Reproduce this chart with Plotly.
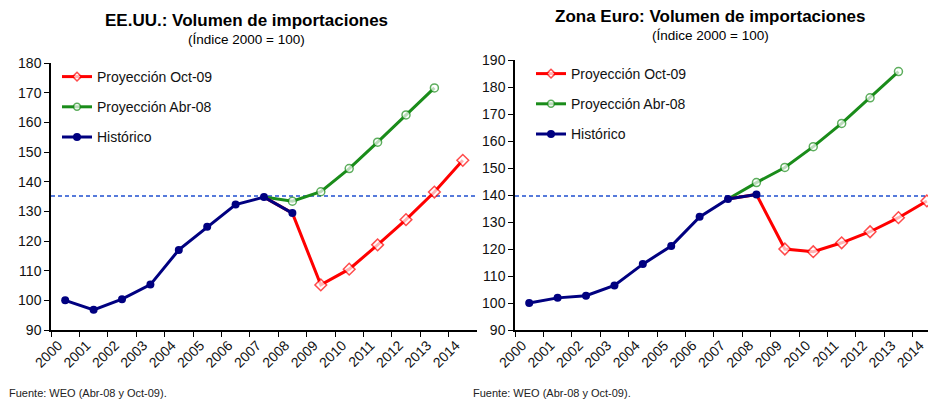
import plotly.graph_objects as go

years = [str(y) for y in range(2000, 2015)]

# EE.UU.
us_hist_years = years[0:9]
us_hist = [100.0, 96.8, 100.4, 105.3, 117.0, 124.8, 132.3, 134.8, 129.4]
us_oct09_years = years[7:15]
us_oct09 = [134.8, 129.4, 105.2, 110.5, 118.7, 127.2, 136.5, 147.2]
us_abr08_years = years[7:14]
us_abr08 = [134.8, 133.4, 136.6, 144.4, 153.3, 162.5, 171.6]
us_ref = 135.2

# Zona Euro
ez_hist_years = years[0:9]
ez_hist = [100.0, 101.9, 102.7, 106.5, 114.4, 121.1, 131.9, 138.5, 140.2]
ez_oct09_years = years[7:15]
ez_oct09 = [138.5, 140.2, 120.0, 119.0, 122.3, 126.4, 131.6, 137.8]
ez_abr08_years = years[7:14]
ez_abr08 = [138.5, 144.6, 150.2, 157.9, 166.5, 176.0, 185.7]
ez_ref = 139.6

titles = ["EE.UU.: Volumen de importaciones", "Zona Euro: Volumen de importaciones"]
subtitle = "(Índice 2000 = 100)"
source = "Fuente: WEO (Abr-08 y Oct-09)."

RED = "#FF0000"
GREEN = "#1A8C1A"
NAVY = "#000080"
DASH = "#1F4FCF"
FONT = "Liberation Sans, Arial, sans-serif"

W, H = 928, 400

fig = go.Figure()

def add_panel(xa, ya, legend, hist_x, hist, oct_x, octv, abr_x, abr):
    hist_pts = set(zip(hist_x, hist))
    # hide projection markers where they coincide with historical points
    abr_sizes = [0 if (x, v) in hist_pts else 8 for x, v in zip(abr_x, abr)]
    oct_sizes = [0 if (x, v) in hist_pts else 9 for x, v in zip(oct_x, octv)]
    fig.add_trace(go.Scatter(x=abr_x, y=abr, name="Proyección Abr-08", mode="lines+markers",
                             line=dict(color=GREEN, width=3),
                             marker=dict(symbol="circle", size=abr_sizes, color="white",
                                         line=dict(color=GREEN, width=1.5)),
                             xaxis=xa, yaxis=ya, legend=legend, legendrank=2,
                             legendgroup=legend + "b", cliponaxis=False))
    fig.add_trace(go.Scatter(x=oct_x, y=octv, name="Proyección Oct-09", mode="lines+markers",
                             line=dict(color=RED, width=3),
                             marker=dict(symbol="diamond", size=oct_sizes, color="white",
                                         line=dict(color=RED, width=1.5)),
                             xaxis=xa, yaxis=ya, legend=legend, legendrank=1,
                             legendgroup=legend + "a", cliponaxis=False))
    fig.add_trace(go.Scatter(x=hist_x, y=hist, name="Histórico", mode="lines+markers",
                             line=dict(color=NAVY, width=3),
                             marker=dict(symbol="circle", size=8, color=NAVY),
                             xaxis=xa, yaxis=ya, legend=legend, legendrank=3,
                             legendgroup=legend + "c", cliponaxis=False))

add_panel("x", "y", "legend", us_hist_years, us_hist, us_oct09_years, us_oct09, us_abr08_years, us_abr08)
add_panel("x2", "y2", "legend2", ez_hist_years, ez_hist, ez_oct09_years, ez_oct09, ez_abr08_years, ez_abr08)

# reference dashed lines
for xr, yr, val in [("x domain", "y", us_ref), ("x2 domain", "y2", ez_ref)]:
    fig.add_shape(type="line", xref=xr, yref=yr, x0=0, x1=1, y0=val, y1=val,
                  line=dict(color=DASH, width=1.5, dash="4px,3px"), layer="below")

xcommon = dict(type="category", categoryorder="array", categoryarray=years,
               tickangle=-45, showline=True, linecolor="black", linewidth=1.5,
               ticks="outside", ticklen=5, tickcolor="black", tickson="boundaries",
               showgrid=False, zeroline=False, automargin=False, ticklabelshift=-7,
               tickfont=dict(size=14, color="#111"))
ycommon = dict(showline=True, linecolor="black", linewidth=1.5, ticks="outside", ticklen=5,
               tickcolor="black", showgrid=False, zeroline=False, dtick=10, automargin=False,
               tickfont=dict(size=14, color="#111"))

fig.update_layout(
    xaxis=dict(xcommon, domain=[51 / W, 477 / W], range=[-0.5, 14.5], anchor="y"),
    yaxis=dict(ycommon, domain=[(H - 330) / H, (H - 63) / H], range=[90, 180], anchor="x"),
    xaxis2=dict(xcommon, domain=[515 / W, 1.0], range=[-0.5, 14.04], anchor="y2"),
    yaxis2=dict(ycommon, domain=[(H - 330) / H, (H - 60) / H], range=[90, 190], anchor="x2"),
)

legcommon = dict(bgcolor="rgba(0,0,0,0)", font=dict(size=14, color="#111", family=FONT),
                 traceorder="grouped", tracegroupgap=9, itemwidth=30,
                 xanchor="left", yanchor="top", xref="paper", yref="paper")
fig.update_layout(
    legend=dict(legcommon, x=57 / W, y=(H - 61) / H),
    legend2=dict(legcommon, x=531 / W, y=(H - 58) / H),
)

annots = [
    dict(text="<b>" + titles[0] + "</b>", x=246 / W, y=(H - 20) / H, font=dict(size=17)),
    dict(text=subtitle, x=246 / W, y=(H - 39) / H, font=dict(size=13.5)),
    dict(text="<b>" + titles[1] + "</b>", x=710 / W, y=(H - 17) / H, font=dict(size=17)),
    dict(text=subtitle, x=710 / W, y=(H - 36) / H, font=dict(size=13.5)),
]
for a in annots:
    fig.add_annotation(xref="paper", yref="paper", showarrow=False, xanchor="center",
                       yanchor="middle", **a)
for xpos in [7, 471]:
    fig.add_annotation(text=source, xref="paper", yref="paper", x=xpos / W, y=(H - 393) / H,
                       xanchor="left", yanchor="middle", showarrow=False,
                       font=dict(size=11, color="#222"))

fig.update_layout(
    width=W, height=H, margin=dict(l=0, r=0, t=0, b=0, pad=0),
    paper_bgcolor="white", plot_bgcolor="white",
    font=dict(family=FONT, color="black"),
    showlegend=True,
)

fig.write_html("out.html", config={"displayModeBar": False},
               post_script="document.body.style.margin='0';document.body.style.overflow='hidden';")
